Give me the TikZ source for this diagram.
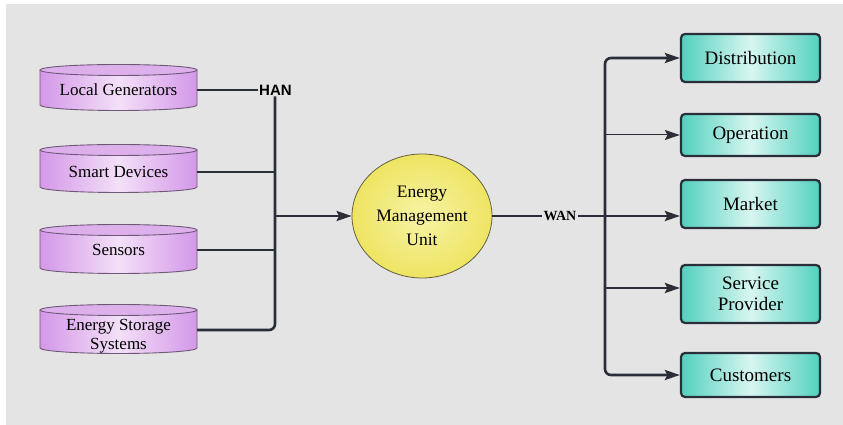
\documentclass[tikz,border=0pt]{standalone}
\usepackage{fontspec}
\setmainfont{Liberation Serif}
\newfontfamily\serifface{Liberation Serif}
\newfontfamily\hanfont{Liberation Sans}
\usetikzlibrary{arrows.meta,calc,shapes.geometric}
\definecolor{bg}{HTML}{E4E4E4}
\definecolor{cylE}{HTML}{D497E8}
\definecolor{cylM}{HTML}{F3E0F8}
\definecolor{cylT}{HTML}{DDB0EC}
\definecolor{cylL}{HTML}{6E5A76}
\definecolor{tealE}{HTML}{52D0BE}
\definecolor{tealM}{HTML}{D8F6F1}
\definecolor{ink}{HTML}{2A2E38}
\definecolor{yelO}{HTML}{EEE462}
\definecolor{yelI}{HTML}{F7F3A6}
\newcommand\mycyl[5]{%
  \shade[left color=cylE, right color=cylE, middle color=cylM]
    (40,#3) -- (40,#4) arc[start angle=180,end angle=360,x radius=78.5,y radius=5.5]
    -- (197,#3) arc[start angle=0,end angle=180,x radius=78.5,y radius=5.5] -- cycle;
  \draw[cylline] (40,#3) -- (40,#4) arc[start angle=180,end angle=360,x radius=78.5,y radius=5.5] -- (197,#3);
  \draw[cylline, fill=cylT] (118.5,#3) ellipse [x radius=78.5, y radius=5.5];
  \node[cyltxt, inner sep=0pt, minimum width=157pt] (#1) at (118.5,#2) {#5};
}
\tikzset{
  txt/.style={text=black, align=center},
  cyltxt/.style={txt, font=\serifface\fontsize{17}{18.5}\selectfont},
  cylline/.style={draw=cylL, line width=0.9pt},
  line/.style={draw=ink, line width=2.6pt},
  tip/.style={-{Stealth[length=15pt,width=10pt,inset=2.5pt]}},
  arr/.style={line, tip},
  box/.style={txt, font=\serifface\fontsize{19}{20.5}\selectfont, draw=ink, line width=2.2pt, rounded corners=4pt,
    left color=tealE, right color=tealE, middle color=tealM,
    minimum width=139pt, inner sep=0pt},
}
\begin{document}
\begin{tikzpicture}[x=1pt,y=1pt]
\useasboundingbox (0,0) rectangle (843,425);
\fill[white] (0,0) rectangle (843,425);
\fill[bg] (6,0) rectangle (843,421);

\mycyl{c1}{335}{355}{320}{Local Generators}
\mycyl{c2}{253}{275}{238}{Smart Devices}
\mycyl{c3}{175}{195}{157}{Sensors}
\mycyl{c4}{89}{115}{77}{Energy Storage\\Systems}

\node[font=\hanfont\bfseries\fontsize{15}{17}\selectfont, inner sep=1pt, anchor=west] (han) at (258,335) {HAN};

\node[ellipse, draw=black!70!yellow, line width=0.8pt, inner color=yelI, outer color=yelO,
  minimum width=140pt, minimum height=124pt, txt, font=\serifface\fontsize{17.5}{24}\selectfont, inner sep=0pt] (emu) at (422,209)
  {Energy\\Management\\Unit};

\node[font=\serifface\bfseries\fontsize{14}{16}\selectfont, inner sep=1pt] (wan) at (560,209) {WAN};

\node[box, minimum height=48pt] (dist) at (750.5,367) {Distribution};
\node[box, minimum height=42pt] (oper) at (750.5,290) {Operation};
\node[box, minimum height=48pt] (mark) at (750.5,221) {Market};
\node[box, minimum height=58pt] (serv) at (750.5,131) {Service\\Provider};
\node[box, minimum height=44pt] (cust) at (750.5,50) {Customers};

\coordinate (jl) at (275,209);
\coordinate (bus) at (605,209);

% left side
\draw[line] (c1.east) -- (han.west);
\draw[line, rounded corners=6pt] (han.south -| jl) |- ([yshift=6pt]c4.east);
\draw[line] (c2.east) -- (c2.east -| jl);
\draw[line] (c3.east) -- (c3.east -| jl);
\draw[arr] (jl) -- (emu.west);

% right side
\draw[line] (emu.east) -- (wan.west);
\draw[arr] (wan.east) -- (mark.west |- wan.east);
\draw[line, rounded corners=6pt, {Stealth[length=15pt,width=10pt,inset=2.5pt]}-{Stealth[length=15pt,width=10pt,inset=2.5pt]}]
  (dist.west) -| (bus) |- (cust.west);
\draw[draw=ink, line width=1pt, tip] (oper.west -| bus) -- (oper.west);
\draw[arr] ([yshift=6pt]serv.west -| bus) -- ([yshift=6pt]serv.west);
\end{tikzpicture}
\end{document}
